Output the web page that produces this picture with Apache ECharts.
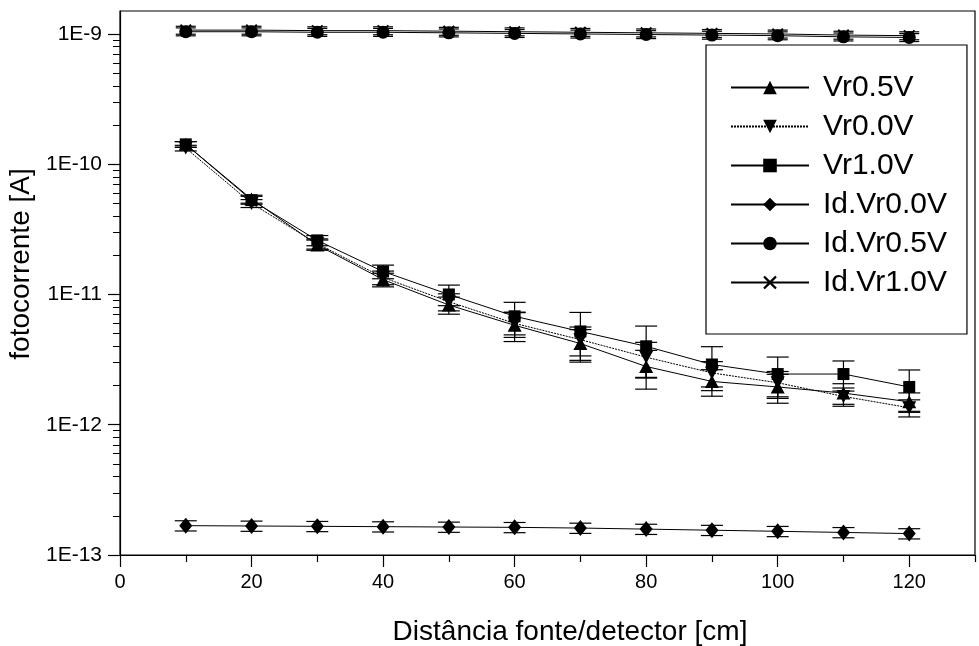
<!DOCTYPE html>
<html><head><meta charset="utf-8">
<script src="https://cdn.jsdelivr.net/npm/echarts@6/dist/echarts.min.js"></script>
<style>html,body{margin:0;padding:0;background:#fff}#c{width:979px;height:646px}</style>
</head><body><div id="c"></div>
<script>
// ---- data ----
const distances = [10, 20, 30, 40, 50, 60, 70, 80, 90, 100, 110, 120];
const vr05 = [1.42e-10, 5.4e-11, 2.4e-11, 1.3e-11, 8.3e-12, 5.8e-12, 4.2e-12, 2.8e-12, 2.15e-12, 1.95e-12, 1.75e-12, 1.5e-12];
const vr00 = [1.33e-10, 5.0e-11, 2.45e-11, 1.35e-11, 8.8e-12, 6.0e-12, 4.5e-12, 3.3e-12, 2.5e-12, 2.1e-12, 1.65e-12, 1.35e-12];
const vr10 = [1.42e-10, 5.3e-11, 2.6e-11, 1.5e-11, 1.0e-11, 6.8e-12, 5.2e-12, 4.0e-12, 2.9e-12, 2.45e-12, 2.45e-12, 1.95e-12];
const idVr00 = [1.68e-13, 1.67e-13, 1.66e-13, 1.65e-13, 1.64e-13, 1.63e-13, 1.61e-13, 1.58e-13, 1.55e-13, 1.52e-13, 1.49e-13, 1.46e-13];
const idVr05 = [1.04e-9, 1.04e-9, 1.03e-9, 1.03e-9, 1.02e-9, 1.01e-9, 1.0e-9, 0.99e-9, 0.98e-9, 0.97e-9, 0.95e-9, 0.94e-9];
const idVr10 = [1.07e-9, 1.07e-9, 1.06e-9, 1.06e-9, 1.05e-9, 1.04e-9, 1.03e-9, 1.02e-9, 1.01e-9, 1.0e-9, 0.98e-9, 0.97e-9];
// relative errors (fraction of value)
const errVr05 = [0.05, 0.07, 0.09, 0.12, 0.15, 0.25, 0.28, 0.33, 0.23, 0.25, 0.18, 0.17];
const errVr00 = [0.05, 0.07, 0.09, 0.12, 0.15, 0.22, 0.25, 0.30, 0.22, 0.22, 0.16, 0.15];
const errVr10 = [0.05, 0.07, 0.09, 0.12, 0.18, 0.28, 0.40, 0.43, 0.37, 0.35, 0.26, 0.35];
const errIdVr00 = [0.09, 0.09, 0.09, 0.09, 0.09, 0.09, 0.09, 0.09, 0.09, 0.09, 0.09, 0.09];
const errIdVr05 = [0.07, 0.07, 0.07, 0.07, 0.07, 0.07, 0.07, 0.07, 0.07, 0.07, 0.07, 0.07];
const errIdVr10 = [0.07, 0.07, 0.07, 0.07, 0.07, 0.07, 0.07, 0.07, 0.07, 0.07, 0.07, 0.07];
const seriesNames = ['Vr0.5V', 'Vr0.0V', 'Vr1.0V', 'Id.Vr0.0V', 'Id.Vr0.5V', 'Id.Vr1.0V'];
const xMajorTicks = [0, 20, 40, 60, 80, 100, 120];
const xMinorTicks = [10, 30, 50, 70, 90, 110, 130];
const yMajorTicks = [1e-13, 1e-12, 1e-11, 1e-10, 1e-9];
const xTitle = 'Distância fonte/detector [cm]';
const yTitle = 'fotocorrente [A]';

// ---- build ----
const yMinorTicks = [];
for (let k = -13; k <= -10; k++) for (let m = 2; m <= 9; m++) yMinorTicks.push(parseFloat((m * Math.pow(10, k)).toPrecision(3)));

const FONT = '"Liberation Sans", Arial, sans-serif';
const BLACK = '#000';
const valuesList = [vr05, vr00, vr10, idVr00, idVr05, idVr10];
const errList = [errVr05, errVr00, errVr10, errIdVr00, errIdVr05, errIdVr10];
const symbols = [
  'path://M5,0L10,9L0,9Z',
  'path://M0,0L10,0L5,9Z',
  'rect',
  'diamond',
  'circle',
  'path://M0,1.2L1.2,0L5,3.8L8.8,0L10,1.2L6.2,5L10,8.8L8.8,10L5,6.2L1.2,10L0,8.8L3.8,5Z'
];
const symSizes = [[14, 13], [14, 13], 12, [13, 16], 13, 12];
const capWidths = [22, 22, 22, 22, 20, 20];
const lineTypes = ['solid', [2, 1], 'solid', 'solid', 'solid', 'solid'];

function errRender(capW) {
  return function (params, api) {
    const x = api.value(0), lo = api.value(1), hi = api.value(2);
    const pLo = api.coord([x, lo]), pHi = api.coord([x, hi]);
    const h = capW / 2;
    const st = { stroke: BLACK, lineWidth: 1.2 };
    return { type: 'group', children: [
      { type: 'line', shape: { x1: pLo[0], y1: pLo[1], x2: pHi[0], y2: pHi[1] }, style: st },
      { type: 'line', shape: { x1: pLo[0] - h, y1: pLo[1], x2: pLo[0] + h, y2: pLo[1] }, style: st },
      { type: 'line', shape: { x1: pHi[0] - h, y1: pHi[1], x2: pHi[0] + h, y2: pHi[1] }, style: st }
    ]};
  };
}

const series = [];
seriesNames.forEach((name, i) => {
  series.push({
    type: 'custom', name: name + ' err', xAxisIndex: 0, yAxisIndex: 0, z: 1, silent: true,
    renderItem: errRender(capWidths[i]),
    encode: { x: 0, y: [1, 2] },
    data: distances.map((d, j) => [d, valuesList[i][j] * (1 - errList[i][j]), valuesList[i][j] * (1 + errList[i][j])])
  });
});
seriesNames.forEach((name, i) => {
  series.push({
    type: 'line', name: name, xAxisIndex: 0, yAxisIndex: 0, z: 2 + i,
    data: distances.map((d, j) => [d, valuesList[i][j]]),
    symbol: symbols[i], symbolSize: symSizes[i], showAllSymbol: true,
    lineStyle: { color: BLACK, width: 1, type: lineTypes[i] },
    itemStyle: { color: BLACK, borderWidth: 0 },
    emphasis: { disabled: true }, animation: false
  });
});

const chart = echarts.init(document.getElementById('c'), null, { renderer: 'canvas' });
chart.setOption({
  backgroundColor: '#fff',
  animation: false,
  grid: { left: 120, right: 4, top: 11, bottom: 91, show: true, borderColor: BLACK, borderWidth: 1.2, backgroundColor: 'transparent', containLabel: false, outerBoundsMode: 'none' },
  xAxis: [{
    type: 'value', min: 0, max: 130,
    axisLine: { show: true, onZero: false, lineStyle: { color: BLACK, width: 1.2 } },
    axisTick: { show: true, inside: false, length: 12, customValues: xMajorTicks, lineStyle: { color: BLACK, width: 1.2 } },
    axisLabel: { customValues: xMajorTicks, margin: 17, fontSize: 20, color: BLACK, fontFamily: FONT },
    splitLine: { show: false },
    name: xTitle, nameLocation: 'middle', nameGap: 63,
    nameTextStyle: { fontSize: 28, color: BLACK, fontFamily: FONT, padding: [0, 0, 0, 45] }
  }, {
    type: 'value', min: 0, max: 130, position: 'bottom',
    axisLine: { show: false },
    axisTick: { show: true, inside: false, length: 7, customValues: xMinorTicks, lineStyle: { color: BLACK, width: 1.2 } },
    axisLabel: { show: false }, splitLine: { show: false }
  }],
  yAxis: [{
    type: 'log', logBase: 10, min: 1e-13, max: 1.5e-9,
    axisLine: { show: true, onZero: false, lineStyle: { color: BLACK, width: 1.2 } },
    axisTick: { show: true, inside: false, length: 12, customValues: yMajorTicks, lineStyle: { color: BLACK, width: 1.2 } },
    axisLabel: { customValues: yMajorTicks, margin: 18, fontSize: 21, color: BLACK, fontFamily: FONT,
      formatter: v => '1E' + Math.round(Math.log10(v)) },
    splitLine: { show: false },
    name: yTitle, nameLocation: 'middle', nameGap: 83, nameRotate: 90,
    nameTextStyle: { fontSize: 28, color: BLACK, fontFamily: FONT, padding: [0, 0, 0, 38] }
  }, {
    type: 'log', logBase: 10, min: 1e-13, max: 1.5e-9, position: 'left',
    axisLine: { show: false },
    axisTick: { show: true, inside: false, length: 7, customValues: yMinorTicks, lineStyle: { color: BLACK, width: 1 } },
    axisLabel: { show: false }, splitLine: { show: false }
  }],
  legend: {
    data: seriesNames, orient: 'vertical', left: 706, top: 45,
    padding: [27, 20, 36, 24], itemGap: 8, itemWidth: 78, itemHeight: 17,
    borderColor: BLACK, borderWidth: 1.2, backgroundColor: '#fff',
    textStyle: { fontSize: 30, lineHeight: 31, color: BLACK, fontFamily: FONT, padding: [0, 0, 0, 9] },
    selectedMode: false, z: 20
  },
  series: series
});
</script>
</body></html>
